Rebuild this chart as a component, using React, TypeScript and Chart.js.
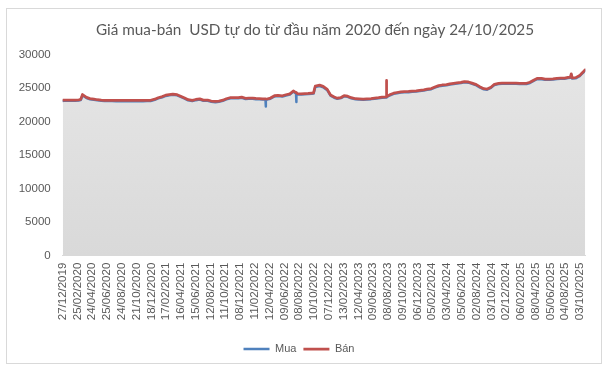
import React, { useEffect, useRef } from "react";
import { Chart, registerables } from "chart.js";

Chart.register(...registerables);

const chartTitle = "Giá mua-bán  USD tự do từ đầu năm 2020 đến ngày 24/10/2025";
const seriesNames = ["Mua", "Bán"];

const tickLabels = [
  "27/12/2019", "25/02/2020", "24/04/2020", "25/06/2020", "24/08/2020", "21/10/2020",
  "18/12/2020", "17/02/2021", "16/04/2021", "15/06/2021", "12/08/2021", "11/10/2021",
  "08/12/2021", "11/02/2022", "12/04/2022", "09/06/2022", "08/08/2022", "10/10/2022",
  "07/12/2022", "13/02/2023", "12/04/2023", "09/06/2023", "08/08/2023", "09/10/2023",
  "06/12/2023", "05/02/2024", "03/04/2024", "05/06/2024", "02/08/2024", "03/10/2024",
  "02/12/2024", "06/02/2025", "08/04/2025", "05/06/2025", "04/08/2025", "03/10/2025",
];

const dates = [
  "27/12/2019", "01/01/2020", "15/01/2020", "01/02/2020", "15/02/2020", "01/03/2020", "09/03/2020", "16/03/2020",
  "01/04/2020", "15/04/2020", "01/05/2020", "15/05/2020", "01/06/2020", "15/06/2020", "01/07/2020", "15/07/2020",
  "01/08/2020", "15/08/2020", "01/09/2020", "15/09/2020", "01/10/2020", "15/10/2020", "01/11/2020", "15/11/2020",
  "01/12/2020", "15/12/2020", "01/01/2021", "15/01/2021", "01/02/2021", "15/02/2021", "01/03/2021", "15/03/2021",
  "01/04/2021", "15/04/2021", "01/05/2021", "15/05/2021", "01/06/2021", "15/06/2021", "01/07/2021", "15/07/2021",
  "01/08/2021", "15/08/2021", "01/09/2021", "15/09/2021", "01/10/2021", "15/10/2021", "01/11/2021", "15/11/2021",
  "01/12/2021", "15/12/2021", "01/01/2022", "15/01/2022", "01/02/2022", "15/02/2022", "01/03/2022", "15/03/2022",
  "26/03/2022", "27/03/2022", "28/03/2022", "01/04/2022", "15/04/2022", "01/05/2022", "15/05/2022", "01/06/2022",
  "15/06/2022", "01/07/2022", "15/07/2022", "26/07/2022", "27/07/2022", "28/07/2022", "01/08/2022", "15/08/2022",
  "01/09/2022", "15/09/2022", "01/10/2022", "08/10/2022", "15/10/2022", "01/11/2022", "15/11/2022", "01/12/2022",
  "15/12/2022", "01/01/2023", "15/01/2023", "01/02/2023", "15/02/2023", "01/03/2023", "15/03/2023", "01/04/2023",
  "15/04/2023", "01/05/2023", "15/05/2023", "01/06/2023", "15/06/2023", "01/07/2023", "15/07/2023", "01/08/2023",
  "02/08/2023", "03/08/2023", "15/08/2023", "01/09/2023", "15/09/2023", "01/10/2023", "15/10/2023", "01/11/2023",
  "15/11/2023", "01/12/2023", "15/12/2023", "01/01/2024", "15/01/2024", "01/02/2024", "15/02/2024", "01/03/2024",
  "15/03/2024", "01/04/2024", "15/04/2024", "01/05/2024", "15/05/2024", "01/06/2024", "15/06/2024", "01/07/2024",
  "15/07/2024", "01/08/2024", "15/08/2024", "01/09/2024", "15/09/2024", "01/10/2024", "15/10/2024", "01/11/2024",
  "15/11/2024", "01/12/2024", "15/12/2024", "01/01/2025", "15/01/2025", "01/02/2025", "15/02/2025", "01/03/2025",
  "15/03/2025", "01/04/2025", "15/04/2025", "01/05/2025", "15/05/2025", "01/06/2025", "15/06/2025", "01/07/2025",
  "15/07/2025", "01/08/2025", "15/08/2025", "25/08/2025", "28/08/2025", "01/09/2025", "15/09/2025", "01/10/2025",
  "10/10/2025", "17/10/2025", "24/10/2025",
];

const banValues = [
  23180, 23180, 23200, 23190, 23200, 23240, 23300, 24030,
  23600, 23420, 23330, 23250, 23190, 23170, 23160, 23150,
  23150, 23140, 23150, 23140, 23150, 23150, 23150, 23140,
  23150, 23170, 23330, 23550, 23720, 23930, 24020, 24090,
  24000, 23780, 23520, 23260, 23150, 23290, 23370, 23200,
  23190, 23060, 22990, 23040, 23180, 23400, 23580, 23560,
  23580, 23640, 23470, 23480, 23490, 23440, 23420, 23390,
  23380, 23380, 23370, 23360, 23500, 23850, 23900, 23840,
  23990, 24120, 24560, 24300, 24280, 24260, 24150, 24130,
  24170, 24190, 24250, 24270, 25300, 25420, 25250, 24800,
  23950, 23650, 23480, 23580, 23850, 23780, 23560, 23400,
  23370, 23340, 23380, 23430, 23500, 23560, 23650, 23690,
  26120, 23720, 23980, 24230, 24330, 24420, 24460, 24480,
  24540, 24580, 24650, 24720, 24820, 24920, 25150, 25350,
  25450, 25500, 25620, 25700, 25780, 25850, 25960, 25900,
  25730, 25500, 25200, 24900, 24850, 25120, 25550, 25680,
  25720, 25730, 25720, 25730, 25740, 25700, 25680, 25700,
  25850, 26200, 26450, 26420, 26330, 26320, 26350, 26450,
  26470, 26480, 26580, 26620, 27120, 26500, 26550, 26850,
  27200, 27450, 27720,
];

const muaValues = [
  23080, 23090, 23100, 23100, 23110, 23150, 23200, 23900,
  23500, 23330, 23240, 23160, 23100, 23080, 23060, 23050,
  23040, 23030, 23040, 23030, 23040, 23050, 23040, 23030,
  23050, 23070, 23230, 23450, 23620, 23820, 23920, 23990,
  23900, 23680, 23420, 23160, 23050, 23190, 23270, 23100,
  23090, 22960, 22880, 22940, 23080, 23300, 23480, 23460,
  23480, 23540, 23370, 23380, 23390, 23340, 23320, 23290,
  23290, 22240, 23280, 23270, 23400, 23750, 23800, 23740,
  23890, 24020, 24460, 24200, 22930, 24160, 24050, 24030,
  24070, 24090, 24150, 24170, 25150, 25300, 25120, 24680,
  23850, 23550, 23390, 23490, 23750, 23680, 23470, 23310,
  23280, 23250, 23290, 23340, 23410, 23470, 23560, 23600,
  23610, 23620, 23880, 24130, 24230, 24320, 24360, 24380,
  24440, 24480, 24550, 24620, 24720, 24820, 25050, 25250,
  25350, 25400, 25520, 25600, 25680, 25750, 25860, 25800,
  25630, 25400, 25100, 24800, 24750, 25020, 25450, 25580,
  25620, 25630, 25620, 25630, 25640, 25600, 25580, 25600,
  25750, 26100, 26350, 26320, 26230, 26220, 26250, 26350,
  26370, 26380, 26480, 26520, 27000, 26400, 26450, 26750,
  27100, 27350, 27620,
];

const yTicks = { min: 0, max: 30000, step: 5000 };

const dayOf = (s: string) => {
  const [d, m, y] = s.split("/").map(Number);
  return Date.UTC(y, m - 1, d) / 86400000;
};
const tickDays = tickLabels.map(dayOf);
const toIndex = (s: string) => {
  const day = dayOf(s);
  const n = tickDays.length;
  let i = 0;
  while (i < n - 2 && day >= tickDays[i + 1]) i++;
  return i + (day - tickDays[i]) / (tickDays[i + 1] - tickDays[i]);
};

const titleShift = {
  id: "titleShift",
  afterLayout(chart: any) {
    const t = chart.titleBlock;
    if (t) {
      t.left += 16;
      t.right += 16;
    }
  },
};

export default function App() {
  const ref = useRef<HTMLCanvasElement | null>(null);
  useEffect(() => {
    if (!ref.current) return;
    const xs = dates.map(toIndex);
    const tickFont = { family: "'Liberation Sans', Arial, sans-serif", size: 11.5 };
    const chart = new Chart(ref.current, {
      type: "line",
      data: {
        datasets: [
          {
            label: seriesNames[0],
            data: xs.map((x, i) => ({ x, y: muaValues[i] })),
            borderColor: "#4f81bd",
            backgroundColor: "#4f81bd",
            borderWidth: 2.5,
            pointRadius: 0,
            tension: 0,
            fill: false,
            order: 1,
            borderJoinStyle: "round",
            borderCapStyle: "round",
          },
          {
            label: seriesNames[1],
            data: xs.map((x, i) => ({ x, y: banValues[i] })),
            borderColor: "#c0504d",
            borderWidth: 2.75,
            pointRadius: 0,
            tension: 0,
            fill: "origin",
            order: 0,
            borderJoinStyle: "round",
            borderCapStyle: "round",
            backgroundColor: (ctx: any) => {
              const { chart } = ctx;
              const area = chart.chartArea;
              if (!area) return "#dedede";
              const g = chart.ctx.createLinearGradient(0, area.top, 0, area.bottom);
              g.addColorStop(0, "#e6e6e6");
              g.addColorStop(1, "#d9d9d9");
              return g;
            },
          },
        ],
      },
      plugins: [titleShift],
      options: {
        responsive: false,
        animation: false,
        devicePixelRatio: 1,
        layout: { padding: { left: 0, right: 10, top: 0, bottom: 0.5 } },
        scales: {
          x: {
            type: "linear",
            min: 0,
            max: xs[xs.length - 1],
            afterBuildTicks: (scale: any) => {
              scale.ticks = tickLabels.map((_, i) => ({ value: i }));
            },
            afterFit: (s: any) => {
              s.height = 80.8;
            },
            ticks: {
              autoSkip: false,
              maxRotation: 90,
              minRotation: 90,
              padding: 7,
              color: "#595959",
              font: tickFont,
              callback: (v: any) => tickLabels[v] ?? "",
            },
            grid: { display: false, drawTicks: false },
            border: { display: true, color: "#d9d9d9" },
          },
          y: {
            min: yTicks.min,
            max: yTicks.max,
            afterFit: (s: any) => {
              s.width = 55.7;
            },
            ticks: {
              stepSize: yTicks.step,
              padding: 12,
              color: "#595959",
              font: tickFont,
              callback: (v: any) => String(v),
            },
            grid: { display: false, drawTicks: false },
            border: { display: false },
          },
        },
        plugins: {
          filler: { drawTime: "beforeDatasetsDraw" },
          title: {
            display: true,
            text: chartTitle,
            color: "#595959",
            font: { family: "Lato, sans-serif", size: 15.3, weight: "normal" },
            padding: { top: 11.5, bottom: 15.6 },
          },
          legend: {
            position: "bottom",
            labels: {
              usePointStyle: true,
              pointStyle: "line",
              pointStyleWidth: 26,
              color: "#595959",
              font: { family: "'Liberation Sans', Arial, sans-serif", size: 11 },
              padding: 7,
              sort: (a: any, b: any) => a.datasetIndex - b.datasetIndex,
            },
          },
          tooltip: { enabled: false },
        },
      } as any,
    });
    return () => chart.destroy();
  }, []);

  return (
    <div style={{ position: "absolute", left: 0, top: 0, width: 610, height: 374, background: "#fff" }}>
      <div
        style={{
          position: "absolute",
          left: 6,
          top: 8,
          width: 596,
          height: 356,
          boxSizing: "border-box",
          border: "1px solid #d9d9d9",
        }}
      >
        <canvas
          ref={ref}
          width={594}
          height={356}
          style={{ position: "absolute", left: 0, top: 0, display: "block", width: 594, height: 356 }}
        />
      </div>
    </div>
  );
}
